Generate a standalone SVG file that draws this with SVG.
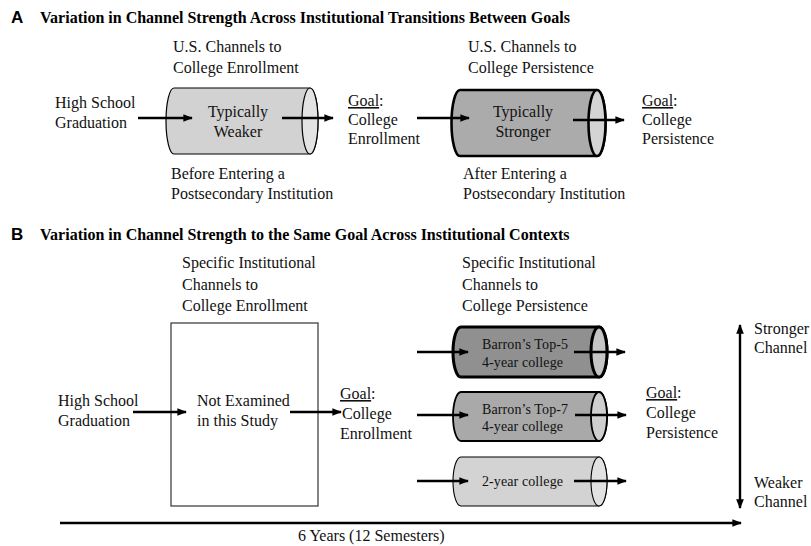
<svg xmlns="http://www.w3.org/2000/svg" width="811" height="546" viewBox="0 0 811 546">
<defs>
<marker id="ah" viewBox="0 0 10 10" refX="9" refY="5" markerWidth="4" markerHeight="4" orient="auto-start-reverse" markerUnits="strokeWidth">
<path d="M0,1 L10,5 L0,9 Z" fill="#000"/>
</marker>
<style>
.t{font-family:"Liberation Serif","Times New Roman",serif;font-size:16px;fill:#111}
.s{font-family:"Liberation Serif","Times New Roman",serif;font-size:14px;fill:#111}
.h{font-family:"Liberation Serif","Times New Roman",serif;font-size:16px;font-weight:bold;fill:#000}
.L{font-family:"Liberation Sans",Arial,sans-serif;font-size:17px;font-weight:bold;fill:#000}
.u{text-decoration:underline}
.c{stroke:#000;stroke-linejoin:round}
.ar{stroke:#000;stroke-width:2.4;fill:none;marker-end:url(#ah)}
</style>
</defs>
<rect width="811" height="546" fill="#fff"/>

<text class="L" x="11" y="23">A</text>
<text class="h" x="40" y="23">Variation in Channel Strength Across Institutional Transitions Between Goals</text>
<text class="L" x="11" y="240">B</text>
<text class="h" x="40" y="240">Variation in Channel Strength to the Same Goal Across Institutional Contexts</text>

<g id="a-hs"><text class="t" x="55" y="108">High School</text><text class="t" x="55" y="128">Graduation</text></g>
<g id="a-lab1"><text class="t" x="173" y="52">U.S. Channels to</text><text class="t" x="173" y="73">College Enrollment</text></g>
<g id="a-cyl1">
<path class="c" d="M174,88 H310 A8,33 0 0 1 310,154 H174 A8,33 0 0 1 174,88 Z" fill="#d2d2d2" stroke-width="1.2"/>
<ellipse class="c" cx="310" cy="121" rx="8" ry="33" fill="#e3e3e3" stroke-width="1.2"/>
<text class="t" x="238" y="117" text-anchor="middle">Typically</text>
<text class="t" x="238" y="137" text-anchor="middle">Weaker</text>
</g>
<g id="a-lab2"><text class="t" x="171" y="179">Before Entering a</text><text class="t" x="171" y="199">Postsecondary Institution</text></g>
<g id="a-goal1"><text class="t" x="348" y="106"><tspan class="u">Goal</tspan>:</text><text class="t" x="348" y="125">College</text><text class="t" x="348" y="144">Enrollment</text></g>

<g id="a-lab3"><text class="t" x="468" y="52">U.S. Channels to</text><text class="t" x="468" y="73">College Persistence</text></g>
<g id="a-cyl2">
<path class="c" d="M460,90 H597 A8.5,33 0 0 1 597,156 H460 A8.5,33 0 0 1 460,90 Z" fill="#ababab" stroke-width="2.6"/>
<ellipse class="c" cx="597" cy="123" rx="8.5" ry="33" fill="#d4d4d4" stroke-width="2.6"/>
<text class="t" x="523" y="117" text-anchor="middle">Typically</text>
<text class="t" x="523" y="137" text-anchor="middle">Stronger</text>
</g>
<g id="a-lab4"><text class="t" x="463" y="179">After Entering a</text><text class="t" x="463" y="199">Postsecondary Institution</text></g>
<g id="a-goal2"><text class="t" x="642" y="106"><tspan class="u">Goal</tspan>:</text><text class="t" x="642" y="125">College</text><text class="t" x="642" y="144">Persistence</text></g>

<g id="b-lab1"><text class="t" x="182" y="268">Specific Institutional</text><text class="t" x="182" y="290">Channels to</text><text class="t" x="182" y="311">College Enrollment</text></g>
<g id="b-hs"><text class="t" x="58" y="406">High School</text><text class="t" x="58" y="426">Graduation</text></g>
<g id="b-box">
<rect x="171" y="323" width="147" height="183" fill="#fff" stroke="#333" stroke-width="1.2"/>
<text class="t" x="197" y="406">Not Examined</text>
<text class="t" x="197" y="426">in this Study</text>
</g>
<g id="b-goal1"><text class="t" x="340" y="399"><tspan class="u">Goal</tspan>:</text><text class="t" x="342" y="419">College</text><text class="t" x="340" y="439">Enrollment</text></g>

<g id="b-lab2"><text class="t" x="462" y="268">Specific Institutional</text><text class="t" x="462" y="290">Channels to</text><text class="t" x="462" y="311">College Persistence</text></g>
<g id="b-top5">
<path class="c" d="M461,327 H599 A8,25 0 0 1 599,377 H461 A8,25 0 0 1 461,327 Z" fill="#909090" stroke-width="3"/>
<ellipse class="c" cx="599" cy="352" rx="8" ry="25" fill="#c6c6c6" stroke-width="3"/>
<text class="s" x="482" y="349" letter-spacing="0.1">Barron’s Top-5</text>
<text class="s" x="482" y="367" letter-spacing="0.1">4-year college</text>
</g>
<g id="b-top7">
<path class="c" d="M461,392 H599 A8,24.5 0 0 1 599,441 H461 A8,24.5 0 0 1 461,392 Z" fill="#a9a9a9" stroke-width="1.8"/>
<ellipse class="c" cx="599" cy="416.5" rx="8" ry="24.5" fill="#cfcfcf" stroke-width="1.8"/>
<text class="s" x="482" y="414" letter-spacing="0.1">Barron’s Top-7</text>
<text class="s" x="482" y="431" letter-spacing="0.1">4-year college</text>
</g>
<g id="b-2yr">
<path class="c" d="M461,457 H599 A8,24.5 0 0 1 599,506 H461 A8,24.5 0 0 1 461,457 Z" fill="#d3d3d3" stroke-width="1.1"/>
<ellipse class="c" cx="599" cy="481.5" rx="8" ry="24.5" fill="#e2e2e2" stroke-width="1.1"/>
<text class="s" x="482" y="486" letter-spacing="0.1">2-year college</text>
</g>
<g id="b-goal2"><text class="t" x="646" y="398"><tspan class="u">Goal</tspan>:</text><text class="t" x="646" y="418">College</text><text class="t" x="646" y="438">Persistence</text></g>
<g id="b-strength"><text class="t" x="754" y="334">Stronger</text><text class="t" x="754" y="353">Channel</text><text class="t" x="754" y="488">Weaker</text><text class="t" x="754" y="507">Channel</text></g>
<g id="b-time"><text class="t" x="298" y="541">6 Years (12 Semesters)</text></g>

<g id="connectors">
<line class="ar" x1="138" y1="118" x2="192" y2="118"/>
<line class="ar" x1="282" y1="118" x2="333" y2="118"/>
<line class="ar" x1="417" y1="118" x2="469" y2="118"/>
<line class="ar" x1="573" y1="120" x2="624" y2="120"/>
<line class="ar" x1="133" y1="412" x2="186" y2="412"/>
<line class="ar" x1="290" y1="412" x2="341" y2="412"/>
<line class="ar" x1="417" y1="352" x2="468" y2="352"/>
<line class="ar" x1="574" y1="352" x2="625" y2="352"/>
<line class="ar" x1="417" y1="415" x2="468" y2="415"/>
<line class="ar" x1="575" y1="415" x2="626" y2="415"/>
<line class="ar" x1="417" y1="481" x2="468" y2="481"/>
<line class="ar" x1="574" y1="481" x2="626" y2="481"/>
<line class="ar" x1="740" y1="325" x2="740" y2="508" style="marker-start:url(#ah)"/>
<line class="ar" x1="60" y1="523" x2="741" y2="523" stroke-width="3"/>
</g>
</svg>
